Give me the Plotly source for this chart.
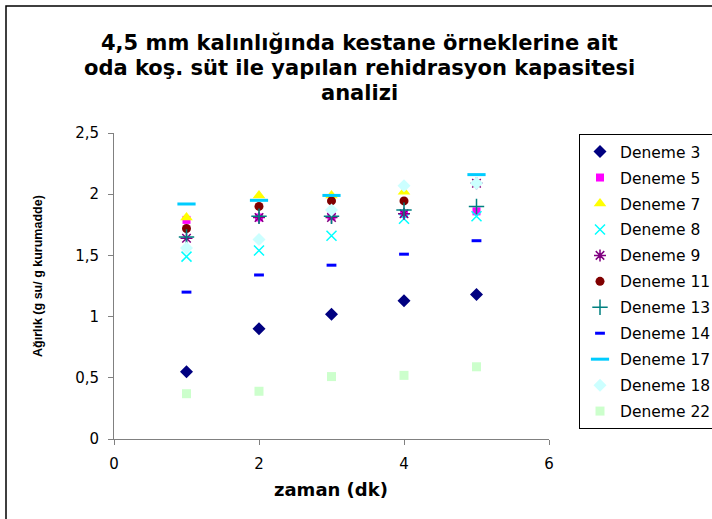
import plotly.graph_objects as go

# Time points (dk)
zaman = [1, 2, 3, 4, 5]

# Rehydration weight (g su / g kurumadde) per trial
deneme_3 = [0.55, 0.90, 1.02, 1.13, 1.18]
deneme_5 = [1.79, 1.81, 1.82, 1.84, 1.86]
deneme_7 = [1.81, 1.99, 1.99, 2.02, None]
deneme_8 = [1.49, 1.54, 1.66, 1.80, 1.82]
deneme_9 = [1.64, 1.81, 1.81, 1.84, 2.09]
deneme_11 = [1.72, 1.90, 1.945, 1.945, 2.09]
deneme_13 = [1.65, 1.82, 1.82, 1.87, 1.90]
deneme_14 = [1.20, 1.34, 1.42, 1.51, 1.62]
deneme_17 = [1.92, 1.95, 1.99, None, 2.16]
deneme_18 = [1.56, 1.63, 1.87, 2.07, 2.09]
deneme_22 = [0.37, 0.39, 0.51, 0.52, 0.59]

series = [
    ("Deneme 3", deneme_3, "diamond", "#000080", 10, 0),
    ("Deneme 5", deneme_5, "square", "#FF00FF", 8, 0),
    ("Deneme 7", deneme_7, "triangle-up", "#FFFF00", 11, 0),
    ("Deneme 8", deneme_8, "x-thin", "#00FFFF", 10, 1.5),
    ("Deneme 9", deneme_9, "asterisk", "#800080", 10, 1.5),
    ("Deneme 11", deneme_11, "circle", "#800000", 9, 0),
    ("Deneme 13", deneme_13, "cross-thin", "#008080", 11, 1.5),
    ("Deneme 14", deneme_14, "line-ew", "#0000FF", 7, 3),
    ("Deneme 17", deneme_17, "line-ew", "#00CCFF", 13, 3),
    ("Deneme 18", deneme_18, "diamond", "#CCFFFF", 10, 0),
    ("Deneme 22", deneme_22, "square", "#CCFFCC", 9, 0),
]

FONT = "DejaVu Sans, Arial, sans-serif"
YFONT = "Liberation Sans, Arial, sans-serif"

fig = go.Figure()
for name, vals, sym, col, size, lw in series:
    fig.add_trace(go.Scatter(
        x=zaman, y=vals, mode="markers", name=name, legendgroup=name,
        marker=dict(symbol=sym, color=col, size=size,
                    line=dict(color=col, width=lw)),
    ))

# Plot geometry in pixels
W, H = 712, 519
L, R, T, B = 114, 549, 133, 439
pw, ph = R - L, B - T


def px_x(px):
    return (px - L) / pw


def px_y(py):
    return (B - py) / ph


title_lines = [
    "4,5 mm kalınlığında kestane örneklerine ait",
    "oda koş. süt ile yapılan rehidrasyon kapasitesi",
    "analizi",
]
annotations = []
for i, line in enumerate(title_lines):
    annotations.append(dict(
        text="<b>%s</b>" % line, x=px_x(359), y=px_y(43 + 25 * i),
        xref="paper", yref="paper", showarrow=False,
        xanchor="center", yanchor="middle",
        font=dict(family=FONT, size=21, color="black"),
    ))
annotations.append(dict(
    text="<b>zaman (dk)</b>", x=px_x(331), y=px_y(489),
    xref="paper", yref="paper", showarrow=False,
    xanchor="center", yanchor="middle",
    font=dict(family=FONT, size=18, color="black"),
))
annotations.append(dict(
    text="<b>Ağırlık (g su/ g kurumadde)</b>", x=px_x(38), y=px_y(276),
    xref="paper", yref="paper", showarrow=False, textangle=-90,
    xanchor="center", yanchor="middle",
    font=dict(family=YFONT, size=12.5, color="black"),
))

axis_common = dict(
    showgrid=False, zeroline=False,
    showline=True, linecolor="#808080", linewidth=1,
    ticks="outside", ticklen=5, tickcolor="#808080",
    ticklabelstandoff=6,
    tickfont=dict(family=FONT, size=15, color="black"),
)

fig.update_layout(
    width=W, height=H,
    margin=dict(l=L, r=W - R, t=T, b=H - B, pad=0, autoexpand=False),
    paper_bgcolor="white", plot_bgcolor="white",
    separators=",.",
    font=dict(family=FONT, size=15, color="black"),
    showlegend=True,
    legend=dict(
        x=px_x(579), y=px_y(134), xanchor="left", yanchor="top",
        bordercolor="black", borderwidth=1, bgcolor="white",
        font=dict(family=FONT, size=15.5, color="black"),
        tracegroupgap=2.8, itemsizing="trace", itemwidth=30,
    ),
    xaxis=dict(range=[0, 6], dtick=2, tick0=0, **axis_common),
    yaxis=dict(range=[0, 2.5], dtick=0.5, tick0=0, **axis_common),
    annotations=annotations,
    shapes=[dict(
        type="rect", xref="paper", yref="paper",
        x0=px_x(6), x1=px_x(740), y0=px_y(540), y1=px_y(6),
        line=dict(color="black", width=1.5), fillcolor="rgba(0,0,0,0)",
        layer="below",
    )],
)

fig.write_html("out.html")
